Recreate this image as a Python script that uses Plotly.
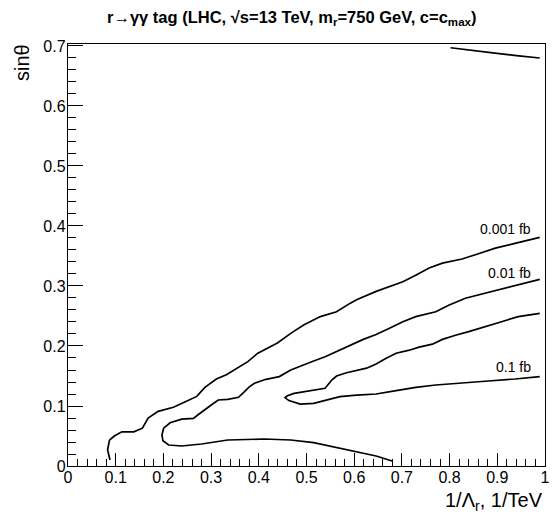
import plotly.graph_objects as go

# ---- data ----
c001_x = [0.088, 0.083, 0.087, 0.097, 0.113, 0.138, 0.156, 0.168, 0.189, 0.221, 0.246, 0.270,
          0.287, 0.311, 0.332, 0.356, 0.377, 0.398, 0.415, 0.439, 0.467, 0.494, 0.529, 0.563,
          0.591, 0.605, 0.646, 0.674, 0.702, 0.729, 0.757, 0.785, 0.826, 0.854, 0.896, 0.937, 0.989]
c001_y = [0.010, 0.027, 0.043, 0.050, 0.057, 0.057, 0.063, 0.080, 0.091, 0.098, 0.107, 0.116,
          0.131, 0.145, 0.152, 0.163, 0.174, 0.188, 0.195, 0.205, 0.221, 0.235, 0.249, 0.257,
          0.271, 0.277, 0.291, 0.299, 0.307, 0.318, 0.330, 0.338, 0.345, 0.352, 0.363, 0.371, 0.381]

c01_x = [0.989, 0.957, 0.923, 0.875, 0.833, 0.798, 0.771, 0.729, 0.702, 0.674, 0.646, 0.619,
         0.601, 0.577, 0.557, 0.539, 0.515, 0.494, 0.467, 0.443, 0.415, 0.391, 0.380, 0.370,
         0.3575, 0.335, 0.315, 0.301, 0.287, 0.272, 0.263, 0.2385, 0.214, 0.2005, 0.197, 0.199,
         0.211, 0.2385, 0.280, 0.335, 0.411, 0.467, 0.515, 0.557, 0.605, 0.646, 0.681]
c01_y = [0.311, 0.3045, 0.298, 0.288, 0.2795, 0.268, 0.257, 0.249, 0.2405, 0.2295, 0.219, 0.211,
         0.2045, 0.196, 0.188, 0.182, 0.175, 0.168, 0.160, 0.149, 0.1445, 0.138, 0.132, 0.124,
         0.1145, 0.111, 0.110, 0.102, 0.0945, 0.085, 0.0795, 0.078, 0.072, 0.063, 0.052, 0.042,
         0.035, 0.0333, 0.0367, 0.0433, 0.045, 0.0433, 0.039, 0.032, 0.024, 0.0167, 0.008]

c1_x = [0.989, 0.944, 0.909, 0.875, 0.840, 0.8125, 0.785, 0.764, 0.736, 0.7155, 0.688, 0.667,
        0.646, 0.626, 0.605, 0.584, 0.563, 0.553, 0.539, 0.515, 0.494, 0.474, 0.460, 0.455,
        0.463, 0.487, 0.515, 0.543, 0.570, 0.605, 0.646, 0.688, 0.729, 0.771, 0.826, 0.881,
        0.937, 0.989]
c1_y = [0.2545, 0.249, 0.2405, 0.232, 0.224, 0.218, 0.211, 0.203, 0.198, 0.193, 0.188, 0.1795,
        0.170, 0.163, 0.159, 0.1555, 0.150, 0.1433, 0.1295, 0.1267, 0.124, 0.121, 0.117, 0.114,
        0.109, 0.1033, 0.1045, 0.110, 0.1155, 0.118, 0.120, 0.1255, 0.131, 0.135, 0.1378, 0.1417,
        0.145, 0.149]

ctop_x = [0.802, 0.850, 0.895, 0.940, 0.989]
ctop_y = [0.697, 0.693, 0.688, 0.684, 0.680]

label_text = ["0.001 fb", "0.01 fb", "0.1 fb"]
label_x = [0.974, 0.974, 0.974]
label_y = [0.395, 0.322, 0.165]

x_ticks = [0, 0.1, 0.2, 0.3, 0.4, 0.5, 0.6, 0.7, 0.8, 0.9, 1]
x_ticktext = ["0", "0.1", "0.2", "0.3", "0.4", "0.5", "0.6", "0.7", "0.8", "0.9", "1"]
y_ticks = [0, 0.1, 0.2, 0.3, 0.4, 0.5, 0.6, 0.7]
y_ticktext = ["0", "0.1", "0.2", "0.3", "0.4", "0.5", "0.6", "0.7"]

FONT = "Liberation Sans, Arial, Helvetica, sans-serif"

fig = go.Figure()
for xs, ys in [(c001_x, c001_y), (c01_x, c01_y), (c1_x, c1_y), (ctop_x, ctop_y)]:
    fig.add_trace(go.Scatter(x=xs, y=ys, mode="lines",
                             line=dict(color="black", width=1.7),
                             showlegend=False, hoverinfo="skip"))

for t, lx, ly in zip(label_text, label_x, label_y):
    fig.add_annotation(x=lx, y=ly, xref="x", yref="y", text=t, showarrow=False,
                       xanchor="right", yanchor="middle",
                       font=dict(family=FONT, size=14, color="black"))

# title
fig.add_annotation(x=0.468, y=1.0616, xref="paper", yref="paper",
                   text="r→γγ tag (LHC, √s=13 TeV, m<sub>r</sub>=750 GeV, c=c<sub>max</sub>)",
                   showarrow=False, xanchor="center", yanchor="middle",
                   font=dict(family=FONT, size=16.5, color="black", weight="bold"))
# x axis title
fig.add_annotation(x=1.0, y=-0.0853, xref="paper", yref="paper",
                   text="1/Λ<sub>r</sub>, 1/TeV", showarrow=False,
                   xanchor="right", yanchor="middle",
                   font=dict(family=FONT, size=20, color="black"))
# y axis title
fig.add_annotation(x=-0.0975, y=1.0047, xref="paper", yref="paper",
                   text="sinθ", showarrow=False, textangle=-90,
                   xanchor="center", yanchor="top",
                   font=dict(family=FONT, size=20, color="black"))

fig.update_xaxes(range=[0, 1], tickvals=x_ticks, ticktext=x_ticktext,
                 showgrid=False, zeroline=False,
                 showline=True, linecolor="black", linewidth=1.2, mirror=True,
                 ticks="inside", ticklen=13, tickwidth=1, tickcolor="black",
                 minor=dict(dtick=0.02, ticks="inside", ticklen=7, tickcolor="black", tickwidth=1,
                            showgrid=False),
                 ticklabeloverflow="allow", ticklabelstandoff=-3,
                 tickfont=dict(family=FONT, size=16, color="black"))
fig.update_yaxes(range=[0, 0.7033], tickvals=y_ticks, ticktext=y_ticktext,
                 showgrid=False, zeroline=False,
                 showline=True, linecolor="black", linewidth=1.2, mirror=True,
                 ticks="inside", ticklen=15, tickwidth=1, tickcolor="black",
                 minor=dict(dtick=0.02, ticks="inside", ticklen=8, tickcolor="black", tickwidth=1,
                            showgrid=False),
                 ticklabeloverflow="allow", ticklabelstandoff=-2,
                 tickfont=dict(family=FONT, size=16, color="black"))

fig.update_layout(width=554, height=514,
                  margin=dict(l=68, r=4, t=44, b=48, pad=0),
                  paper_bgcolor="white", plot_bgcolor="white",
                  showlegend=False)

fig.write_html("out.html", config={"displayModeBar": False, "staticPlot": True},
               post_script="document.body.style.margin='0px';document.body.style.overflow='hidden';")
